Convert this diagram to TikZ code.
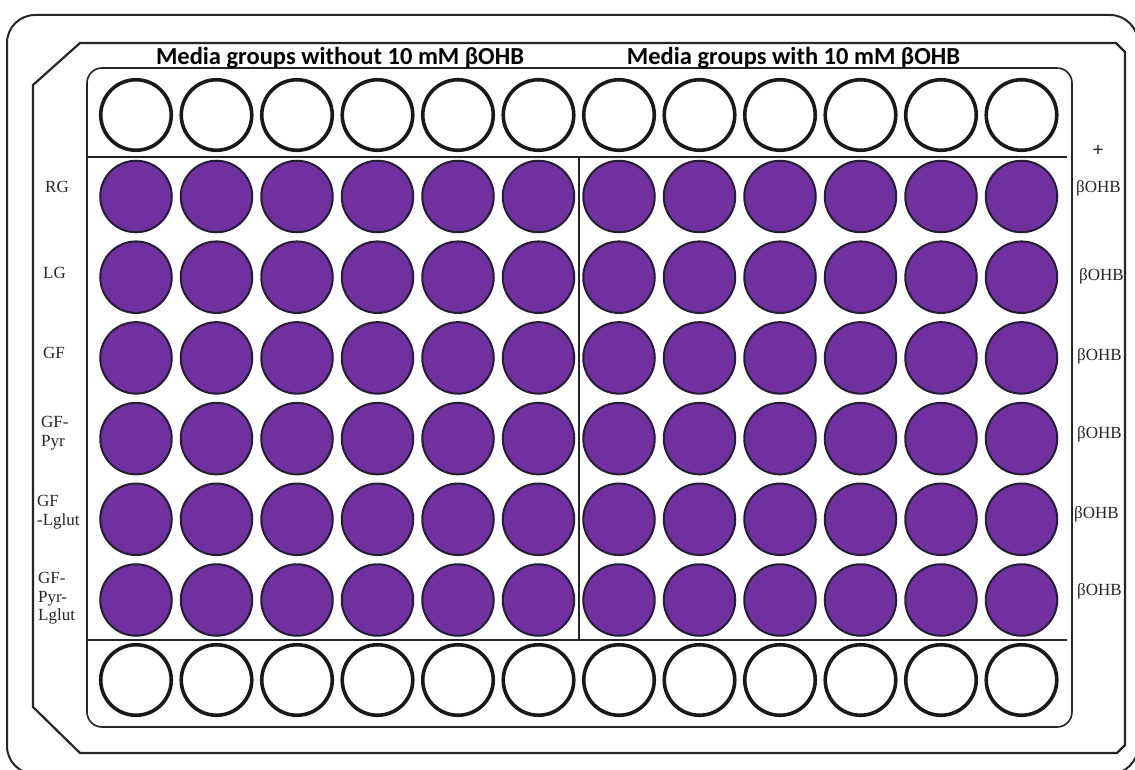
\documentclass[tikz,border=0pt]{standalone}
\usepackage{fontspec}
\newfontfamily\hdrfont{Carlito}
\newfontfamily\lblfont{Liberation Serif}
\definecolor{wellpurple}{HTML}{7030A0}
\definecolor{wellrim}{HTML}{241E33}
\definecolor{lbltext}{HTML}{262626}
\begin{document}
\begin{tikzpicture}[x=1pt,y=-1pt,
  emptywell/.style={circle,draw=black!90,line width=3.6pt,fill=white,minimum size=70.5pt,inner sep=0pt},
  fullwell/.style={circle,draw=wellrim,line width=2pt,fill=wellpurple,minimum size=71.5pt,inner sep=0pt},
  hdr/.style={font=\hdrfont\bfseries\fontsize{24.5}{29}\selectfont,text=black,inner sep=0pt},
  rowlbl/.style={font=\lblfont\fontsize{17}{18.3}\selectfont,text=lbltext,inner sep=0pt,align=left},
  outerframe/.style={line width=2pt,draw=black!85},
  plateframe/.style={line width=2.2pt,draw=black!85},
  innerframe/.style={line width=1.6pt,draw=black!85},
  divider/.style={line width=1.8pt,draw=black!85}]
\useasboundingbox (0,0) rectangle (1135,770);
\clip (0,0) rectangle (1135,770);
\fill[white] (0,0) rectangle (1135,770);
% frames
\draw[outerframe,rounded corners=28pt] (7,15) rectangle (1138,774);
\draw[plateframe] (80,43) -- (1116,43) -- (1125,52) -- (1125,745) -- (1117,753) -- (80,753) -- (33,707) -- (33,85) -- cycle;
\draw[innerframe,rounded corners=15pt] (87,68) rectangle (1072,727);
% wells
\foreach \c in {1,...,12} {
  \pgfmathsetmacro\xx{136+80.5*(\c-1)}
  \node[emptywell] (top-\c) at (\xx,115) {};
  \node[emptywell] (bot-\c) at (\xx,680) {};
  \foreach \r in {1,...,6} {
    \pgfmathsetmacro\yy{196.5+80.7*(\r-1)}
    \node[fullwell] (w-\r-\c) at (\xx,\yy) {};
  }
}
% dividers
\coordinate (dtl) at (87,157);
\coordinate (dtr) at (1067,157);
\coordinate (dbl) at (87,640);
\coordinate (dbr) at (1067,640);
\coordinate (dvt) at (579,157);
\coordinate (dvb) at (579,640);
\draw[divider] (dtl) -- (dtr);
\draw[divider] (dbl) -- (dbr);
\draw[divider] (dvt) -- (dvb);
% headers
\node[hdr,anchor=base] (hdrA) at (340,65) {Media groups without 10 mM βOHB};
\node[hdr,anchor=base] (hdrB) at (793.5,65) {Media groups with 10 mM βOHB};
% left row labels
\node[rowlbl,anchor=base west] (lRG) at (45,193) {RG};
\node[rowlbl,anchor=base west] (lLG) at (43,278) {LG};
\node[rowlbl,anchor=base west] (lGF) at (43,358) {GF};
\node[rowlbl,anchor=north west] (lGFP) at (41,416.5) {GF-\\Pyr};
\node[rowlbl,anchor=north west] (lGFL) at (37,495.5) {GF\\-Lglut};
\node[rowlbl,anchor=north west] (lGFPL) at (38,572.5) {GF-\\Pyr-\\Lglut};
% right labels
\node[rowlbl,anchor=base,font=\lblfont\bfseries\fontsize{20}{20}\selectfont] (plus) at (1098,157) {+};
\node[rowlbl,anchor=base west] (r1) at (1076,193) {βOHB};
\node[rowlbl,anchor=base west] (r2) at (1079,280) {βOHB};
\node[rowlbl,anchor=base west] (r3) at (1077,360) {βOHB};
\node[rowlbl,anchor=base west] (r4) at (1077,438) {βOHB};
\node[rowlbl,anchor=base west] (r5) at (1074,518) {βOHB};
\node[rowlbl,anchor=base west] (r6) at (1077,595) {βOHB};
\end{tikzpicture}
\end{document}
